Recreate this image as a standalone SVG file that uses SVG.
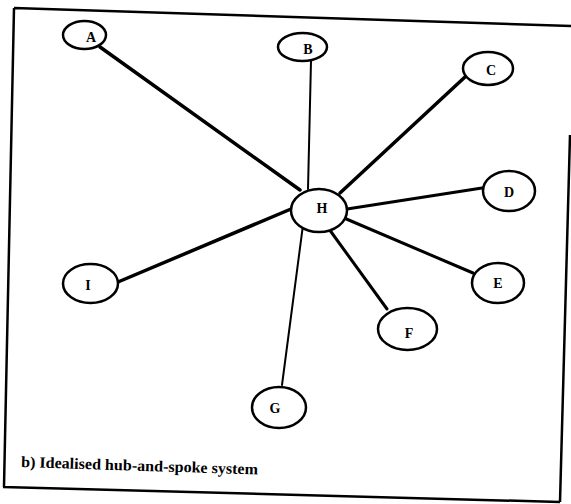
<svg xmlns="http://www.w3.org/2000/svg" width="571" height="504" viewBox="0 0 571 504">
<style>
.node ellipse{fill:#fff;stroke:#000;stroke-width:2.5}
.node text{font-family:"Liberation Serif",serif;font-weight:bold;font-size:14px;text-anchor:middle;fill:#000}
.edge{stroke:#000;stroke-linecap:round;fill:none}
.thick{stroke-width:3.5}
.mid{stroke-width:3}
.thin{stroke-width:2}
.frame{stroke:#000;stroke-width:2.5;fill:none}
.caption{font-family:"Liberation Serif",serif;font-weight:bold;font-size:15.5px;fill:#000}
</style>
<rect width="571" height="504" fill="#fff"/>
<g id="frame">
<path class="frame" d="M14,8 L571,26 M570,135 L560,502 M3,487 L560,502 M14,8 L4,487"/>
</g>
<g id="connectors">
<line class="edge thick" x1="100" y1="47" x2="300" y2="190"/>
<line class="edge thin" x1="311" y1="61" x2="308" y2="189"/>
<line class="edge thick" x1="465" y1="77" x2="340" y2="193"/>
<line class="edge mid" x1="482" y1="188" x2="347" y2="209"/>
<line class="edge mid" x1="473" y1="273" x2="344" y2="218"/>
<line class="edge mid" x1="387" y1="309" x2="329" y2="229"/>
<line class="edge thin" x1="282" y1="385" x2="303" y2="225"/>
<line class="edge thick" x1="118" y1="282" x2="291" y2="209"/>
</g>
<g id="node-A" class="node"><ellipse cx="84.5" cy="35" rx="21.5" ry="14"/><text x="91" y="42">A</text></g>
<g id="node-B" class="node"><ellipse cx="302.5" cy="47" rx="24.5" ry="14"/><text x="308" y="54">B</text></g>
<g id="node-C" class="node"><ellipse cx="488" cy="68.5" rx="25" ry="16.5"/><text x="491" y="75">C</text></g>
<g id="node-D" class="node"><ellipse cx="509" cy="191" rx="26" ry="20"/><text x="509" y="197">D</text></g>
<g id="node-E" class="node"><ellipse cx="498" cy="283" rx="26" ry="20"/><text x="498" y="288">E</text></g>
<g id="node-F" class="node"><ellipse cx="407.5" cy="329" rx="29.5" ry="21"/><text x="409" y="338">F</text></g>
<g id="node-G" class="node"><ellipse cx="279" cy="407.5" rx="27" ry="20.5"/><text x="275" y="413">G</text></g>
<g id="node-H" class="node"><ellipse cx="319" cy="210.5" rx="28" ry="21.5"/><text x="322" y="213">H</text></g>
<g id="node-I" class="node"><ellipse cx="90.5" cy="283.5" rx="27.5" ry="19.5"/><text x="88" y="290">I</text></g>
<text class="caption" x="21" y="467" textLength="237" lengthAdjust="spacingAndGlyphs" transform="rotate(1.8 21 467)">b) Idealised hub-and-spoke system</text>
</svg>
